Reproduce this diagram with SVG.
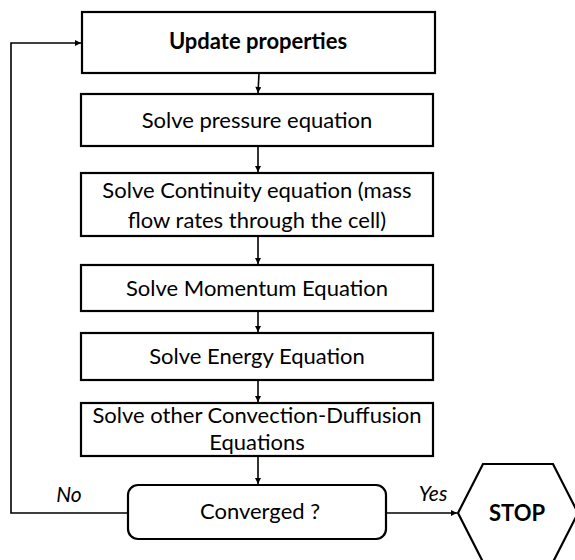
<svg xmlns="http://www.w3.org/2000/svg" width="575" height="560" viewBox="0 0 575 560">
  <style>
    .box { fill: #ffffff; stroke: #000000; stroke-width: 2.2; }
    .lbl { font-family: Lato, "Open Sans", "DejaVu Sans", sans-serif; font-size: 22px; fill: #000000; text-anchor: middle; }
    .bold { font-weight: bold; }
    .tag { font-family: Lato, "Open Sans", "DejaVu Sans", sans-serif; font-size: 21px; font-style: italic; fill: #000000; text-anchor: middle; }
    .edge { fill: none; stroke: #000000; stroke-width: 1.6; marker-end: url(#head); }
  </style>
  <defs>
    <marker id="head" viewBox="0 0 10 10" refX="10" refY="5" markerWidth="7" markerHeight="6" markerUnits="userSpaceOnUse" orient="auto">
      <path d="M0,0 L10,5 L0,10 Z" fill="#000000"/>
    </marker>
  </defs>

  <g id="connectors">
    <path class="edge" d="M259,73 L258,93"/>
    <path class="edge" d="M258,146 L258,172"/>
    <path class="edge" d="M258,237 L258,264"/>
    <path class="edge" d="M258,311 L258,332"/>
    <path class="edge" d="M258,380 L258,402"/>
    <path class="edge" d="M258,456 L258,484"/>
    <path class="edge" d="M128,513 L11,513 L11,43 L81,43"/>
    <path class="edge" d="M386,513 L457,513"/>
  </g>

  <g id="update-properties">
    <rect class="box" x="82" y="12" width="353" height="61"/>
    <text class="lbl bold" x="258" y="49">Update properties</text>
  </g>

  <g id="solve-pressure">
    <rect class="box" x="81" y="94" width="352" height="52"/>
    <text class="lbl" x="257" y="128">Solve pressure equation</text>
  </g>

  <g id="solve-continuity">
    <rect class="box" x="81" y="173" width="352" height="63"/>
    <text class="lbl" x="257" y="198">Solve Continuity equation (mass</text>
    <text class="lbl" x="257" y="228">flow rates through the cell)</text>
  </g>

  <g id="solve-momentum">
    <rect class="box" x="81" y="265" width="352" height="46"/>
    <text class="lbl" x="257" y="296">Solve Momentum Equation</text>
  </g>

  <g id="solve-energy">
    <rect class="box" x="81" y="333" width="352" height="47"/>
    <text class="lbl" x="257" y="364">Solve Energy Equation</text>
  </g>

  <g id="solve-convection-diffusion">
    <rect class="box" x="81" y="403" width="352" height="53"/>
    <text class="lbl" x="257" y="423">Solve other Convection-Duffusion</text>
    <text class="lbl" x="257" y="450">Equations</text>
  </g>

  <g id="converged">
    <rect class="box" x="128" y="485" width="258" height="54" rx="10" ry="10"/>
    <text class="lbl" x="260" y="519">Converged ?</text>
  </g>

  <g id="stop">
    <polygon class="box" points="458,513 483,464 553,464 578,513 553,562 483,562"/>
    <text class="lbl bold" x="517" y="521">STOP</text>
  </g>

  <g id="branch-labels">
    <text class="tag" x="69" y="502">No</text>
    <text class="tag" x="433" y="501">Yes</text>
  </g>
</svg>
